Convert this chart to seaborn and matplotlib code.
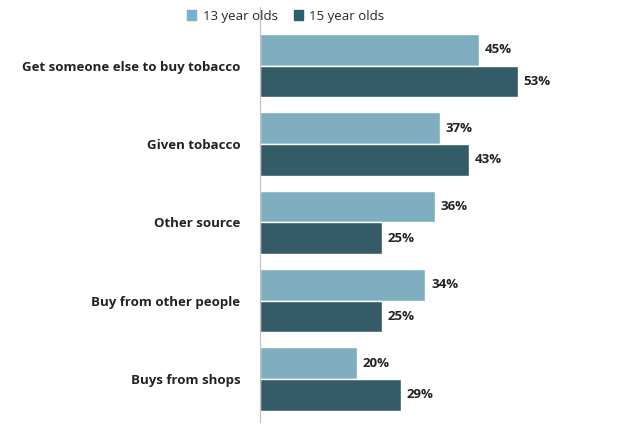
import pandas as pd
import matplotlib
matplotlib.use("Agg")
import matplotlib.pyplot as plt
import seaborn as sns

categories = ["Get someone else to buy tobacco", "Given tobacco", "Other source",
              "Buy from other people", "Buys from shops"]
age_13 = [45, 37, 36, 34, 20]
age_15 = [53, 43, 25, 25, 29]
series = ["13 year olds", "15 year olds"]
colors = ["#74B3CC", "#2D5F70"]

df = pd.DataFrame({
    "source": categories * 2,
    "pct": age_13 + age_15,
    "group": [series[0]] * len(categories) + [series[1]] * len(categories),
})

sns.set_style("white")
plt.rcParams["font.family"] = ["Open Sans", "DejaVu Sans"]

fig = plt.figure(figsize=(6.42, 4.32), dpi=100)
ax = fig.add_axes([260 / 642, 10 / 432, 365 / 642, 415 / 432])
sns.barplot(data=df, y="source", x="pct", hue="group", palette=colors,
            orient="h", width=0.81, ax=ax, legend=False)

for cont in ax.containers:
    ax.bar_label(cont, labels=[f"{v:.0f}%" for v in cont.datavalues],
                 padding=4, fontsize=9.5, fontweight="bold", color="#222222")

ax.set_xlim(0, 75)
ax.set_ylim(4.55, -0.75)
ax.set_xlabel("")
ax.set_ylabel("")
ax.set_xticks([])
ax.tick_params(axis="y", length=0, pad=14, labelsize=9.5)
for lab in ax.get_yticklabels():
    lab.set_fontweight("bold")
    lab.set_color("#222222")
for s in ["top", "right", "bottom"]:
    ax.spines[s].set_visible(False)
ax.spines["left"].set_color("#BFBFBF")

from matplotlib.patches import Patch
handles = [Patch(color=c, label=l) for c, l in zip(colors, series)]
fig.legend(handles=handles, loc="upper center", bbox_to_anchor=(0.445, 1.005),
           ncol=2, frameon=False, fontsize=9.5, handlelength=0.7,
           handleheight=0.7, columnspacing=1.2, handletextpad=0.5)

fig.savefig("out.png", dpi=100)
